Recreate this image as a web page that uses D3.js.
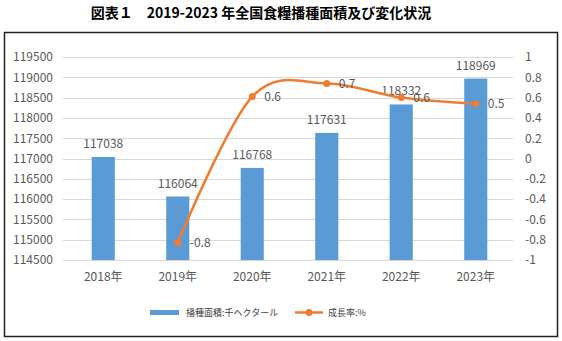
<!DOCTYPE html>
<html>
<head>
<meta charset="utf-8">
<script src="https://cdn.jsdelivr.net/npm/d3@7"></script>
<style>
  body { margin: 0; background: #fff; }
  svg { display: block; font-family: "Noto Sans CJK JP", "Noto Sans", sans-serif; }
</style>
</head>
<body>
<div id="chart"></div>
<script>
// chart data
var years = ["2018年", "2019年", "2020年", "2021年", "2022年", "2023年"];
var area = [117038, 116064, 116768, 117631, 118332, 118969];   // 千ヘクタール
var growthYears = ["2019年", "2020年", "2021年", "2022年", "2023年"];
var growth = [-0.83, 0.61, 0.74, 0.60, 0.54];                   // %
var leftTicks = [114500, 115000, 115500, 116000, 116500, 117000, 117500, 118000, 118500, 119000, 119500];
var rightTicks = [-1, -0.8, -0.6, -0.4, -0.2, 0, 0.2, 0.4, 0.6, 0.8, 1];

var W = 562, H = 341;
// plot area (note: "top" is taken by window.top)
var plotLeft = 63, plotRight = 513, plotTop = 57, plotBottom = 260;
var gray = "#595959";

var svg = d3.select("#chart").append("svg")
    .attr("width", W)
    .attr("height", H);

// title
svg.append("text")
    .attr("x", 261)
    .attr("y", 18)
    .attr("text-anchor", "middle")
    .attr("font-size", "14px")
    .attr("font-weight", "bold")
    .attr("fill", "#000")
    .text("図表１　2019-2023 年全国食糧播種面積及び変化状況");

// frame
svg.append("rect")
    .attr("x", 4.5).attr("y", 32.5)
    .attr("width", 553).attr("height", 304)
    .attr("fill", "none")
    .attr("stroke", "#222")
    .attr("stroke-width", 1.5);

var x = d3.scaleBand().domain(years).range([66, 513]).paddingInner(0.69).paddingOuter(0.345);
var yL = d3.scaleLinear().domain([114500, 119500]).range([plotBottom, plotTop]);
var yR = d3.scaleLinear().domain([-1, 1]).range([plotBottom, plotTop]);

// gridlines
svg.append("g").selectAll("line")
    .data(leftTicks)
    .enter().append("line")
    .attr("x1", plotLeft).attr("x2", plotRight)
    .attr("y1", function(d) { return Math.round(yL(d)) + 0.5; })
    .attr("y2", function(d) { return Math.round(yL(d)) + 0.5; })
    .attr("stroke", "#d9d9d9")
    .attr("stroke-width", 1);

// axes
var axL = svg.append("g")
    .attr("transform", "translate(" + plotLeft + ",0)")
    .call(d3.axisLeft(yL).tickValues(leftTicks).tickSize(0).tickPadding(10).tickFormat(d3.format("d")));
var axR = svg.append("g")
    .attr("transform", "translate(" + plotRight + ",0)")
    .call(d3.axisRight(yR).tickValues(rightTicks).tickSize(0).tickPadding(12).tickFormat(function(d) { return String(+d.toFixed(1)); }));
var axX = svg.append("g")
    .attr("transform", "translate(0," + plotBottom + ")")
    .call(d3.axisBottom(x).tickSize(0).tickPadding(12));

[axL, axR, axX].forEach(function(a) {
    a.select(".domain").remove();
    a.selectAll("text")
        .attr("fill", gray)
        .attr("font-size", "12px")
        .attr("font-family", "\"Noto Sans CJK JP\", \"Noto Sans\", sans-serif");
});

// bars
svg.append("g").selectAll("rect")
    .data(area)
    .enter().append("rect")
    .attr("x", function(d, i) { return x(years[i]); })
    .attr("y", function(d) { return yL(d); })
    .attr("width", x.bandwidth())
    .attr("height", function(d) { return plotBottom - yL(d); })
    .attr("fill", "#5b9bd5");

svg.append("g").selectAll("text")
    .data(area)
    .enter().append("text")
    .attr("x", function(d, i) { return x(years[i]) + x.bandwidth() / 2; })
    .attr("y", function(d) { return yL(d) - 9; })
    .attr("text-anchor", "middle")
    .attr("font-size", "12px")
    .attr("fill", gray)
    .text(function(d) { return d; });

// growth line
var cx = function(i) { return x(growthYears[i]) + x.bandwidth() / 2; };
var line = d3.line()
    .x(function(d, i) { return cx(i); })
    .y(function(d) { return yR(d); })
    .curve(d3.curveCardinal.tension(0));

svg.append("path")
    .datum(growth)
    .attr("d", line)
    .attr("fill", "none")
    .attr("stroke", "#ed7d31")
    .attr("stroke-width", 2.5);

svg.append("g").selectAll("circle")
    .data(growth)
    .enter().append("circle")
    .attr("cx", function(d, i) { return cx(i); })
    .attr("cy", function(d) { return yR(d); })
    .attr("r", 3.5)
    .attr("fill", "#ed7d31");

svg.append("g").selectAll("text")
    .data(growth)
    .enter().append("text")
    .attr("x", function(d, i) { return cx(i) + 12; })
    .attr("y", function(d) { return yR(d); })
    .attr("dy", "0.35em")
    .attr("font-size", "12px")
    .attr("fill", gray)
    .text(function(d) { return d.toFixed(1); });

// legend
var lg = svg.append("g");
lg.append("rect")
    .attr("x", 150).attr("y", 310)
    .attr("width", 29).attr("height", 5)
    .attr("fill", "#5b9bd5");
lg.append("text")
    .attr("x", 186).attr("y", 316)
    .attr("font-size", "9px")
    .attr("fill", "#404040")
    .text("播種面積:千ヘクタール");
lg.append("line")
    .attr("x1", 295).attr("x2", 323)
    .attr("y1", 312.5).attr("y2", 312.5)
    .attr("stroke", "#ed7d31")
    .attr("stroke-width", 2.5);
lg.append("circle")
    .attr("cx", 309).attr("cy", 312.5)
    .attr("r", 3.5)
    .attr("fill", "#ed7d31");
lg.append("text")
    .attr("x", 328).attr("y", 316)
    .attr("font-size", "9px")
    .attr("fill", "#404040")
    .text("成長率:%");
</script>
</body>
</html>
